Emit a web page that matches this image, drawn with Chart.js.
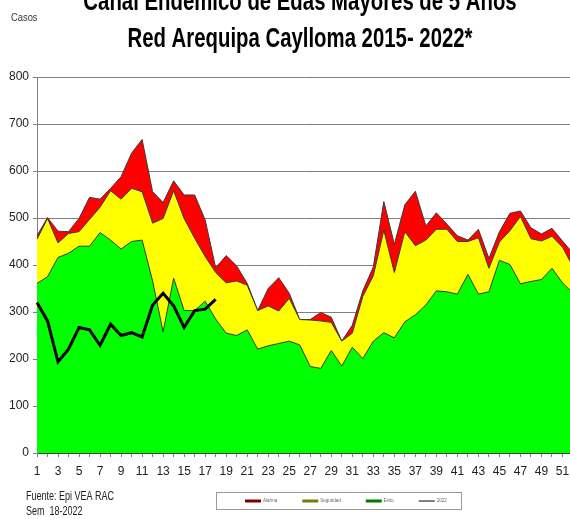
<!DOCTYPE html>
<html>
<head>
<meta charset="utf-8">
<script src="https://cdn.jsdelivr.net/npm/chart.js@4.4.1/dist/chart.umd.min.js"></script>
<style>
  html, body { margin: 0; padding: 0; background: #fff; overflow: hidden; }
  #wrap { width: 570px; height: 519px; overflow: hidden; }
</style>
</head>
<body>
<div id="wrap"><canvas id="canal" width="585" height="519"></canvas></div>
<script>
const semanas = ["1","2","3","4","5","6","7","8","9","10","11","12","13","14","15","16","17","18","19","20","21","22","23","24","25","26","27","28","29","30","31","32","33","34","35","36","37","38","39","40","41","42","43","44","45","46","47","48","49","50","51","52"];
const etiquetasX = ["1","3","5","7","9","11","13","15","17","19","21","23","25","27","29","31","33","35","37","39","41","43","45","47","49","51"];

const exito = [361,375,416,425,440,440,469,453,434,450,453,366,258,372,303,303,323,285,255,250,262,221,228,233,238,230,184,180,218,185,225,201,238,256,245,279,294,315,345,343,338,380,338,343,410,401,360,365,369,393,362,340];
const seguridad = [455,499,447,467,471,497,523,558,540,563,556,489,499,558,499,457,418,384,362,366,357,303,313,302,329,284,283,281,278,238,255,333,377,474,384,471,441,453,476,476,450,450,458,393,449,473,503,456,451,461,438,396];
const alarma = [462,501,472,471,499,544,540,563,588,638,667,556,533,579,549,549,496,394,420,398,361,303,350,373,340,284,284,299,289,238,272,345,396,535,444,528,557,483,511,487,462,453,476,414,471,510,515,479,466,478,451,425];
const casos2022 = [320,281,194,221,267,262,229,274,250,256,247,315,340,313,267,303,306,327];

const titulo = ["Canal Endémico de Edas Mayores de 5 Años", "Red Arequipa Caylloma 2015- 2022*"];
const fuente = ["Fuente: Epi VEA RAC", "Sem  18-2022"];

const FONT = "'Liberation Sans', Arial, sans-serif";
const FONT_EJES = "'Liberation Sans Narrow', 'Arial Narrow', 'Liberation Sans', Arial, sans-serif";

// texto comprimido en horizontal (la imagen original esta angostada)
function texto(ctx, str, x, y, sx, align) {
  ctx.save();
  ctx.translate(x, y);
  ctx.scale(sx, 1);
  ctx.textAlign = align;
  ctx.fillText(str, 0, 0);
  ctx.restore();
}

const textosCanal = {
  id: "textosCanal",
  beforeDraw: (chart) => {
    const { ctx } = chart;
    ctx.save();
    ctx.fillStyle = "#fff";
    ctx.fillRect(0, 0, chart.width, chart.height);
    ctx.restore();
  },
  afterDraw: (chart) => {
    const { ctx } = chart;
    ctx.save();
    ctx.textBaseline = "alphabetic";

    ctx.fillStyle = "#000";
    ctx.font = "bold 28px " + FONT;
    texto(ctx, titulo[0], 300, 10, 0.727, "center");
    texto(ctx, titulo[1], 300, 46.5, 0.727, "center");

    ctx.fillStyle = "#333";
    ctx.font = "11px " + FONT;
    texto(ctx, "Casos", 11, 21, 0.85, "left");

    ctx.fillStyle = "#222";
    ctx.font = "12px " + FONT;
    texto(ctx, fuente[0], 26, 499.5, 0.75, "left");
    texto(ctx, fuente[1], 26, 515, 0.75, "left");

    // leyenda
    ctx.strokeStyle = "#999";
    ctx.lineWidth = 1;
    ctx.strokeRect(216.5, 492.5, 245, 17);
    ctx.font = "4.5px " + FONT;
    ctx.textBaseline = "middle";
    let x = 245;
    const y = 501;
    const items = chart.data.datasets.slice().reverse();
    items.forEach((ds) => {
      ctx.strokeStyle = ds.colorLeyenda;
      ctx.lineWidth = ds.grosorLeyenda;
      ctx.beginPath();
      ctx.moveTo(x, y);
      ctx.lineTo(x + 16, y);
      ctx.stroke();
      ctx.fillStyle = "#666";
      ctx.textAlign = "left";
      ctx.fillText(ds.label, x + 18, y);
      x += 18 + ctx.measureText(ds.label).width + 25;
    });
    ctx.restore();
  },
};

const ctx = document.getElementById("canal");

new Chart(ctx, {
  type: "line",
  data: {
    labels: semanas,
    datasets: [
      {
        label: "2022",
        data: casos2022,
        borderColor: "#000",
        borderWidth: 3,
        fill: false,
        colorLeyenda: "#555",
        grosorLeyenda: 1.5,
      },
      {
        label: "Exito",
        data: exito,
        borderColor: "#3a3a3a",
        borderWidth: 1,
        backgroundColor: "#00ff00",
        fill: "origin",
        colorLeyenda: "#007a00",
        grosorLeyenda: 3,
      },
      {
        label: "Seguridad",
        data: seguridad,
        borderColor: "#3a3a3a",
        borderWidth: 1,
        backgroundColor: "#ffff00",
        fill: "origin",
        colorLeyenda: "#7a7a00",
        grosorLeyenda: 3,
      },
      {
        label: "Alarma",
        data: alarma,
        borderColor: "#3a3a3a",
        borderWidth: 1,
        backgroundColor: "#ff0000",
        fill: "origin",
        colorLeyenda: "#7a0000",
        grosorLeyenda: 3,
      },
    ],
  },
  options: {
    responsive: false,
    animation: false,
    devicePixelRatio: 1,
    layout: {
      padding: { left: 0, right: 12, top: 77, bottom: 36 },
    },
    elements: {
      point: { radius: 0, hoverRadius: 0 },
      line: { tension: 0 },
    },
    plugins: {
      legend: { display: false },
      tooltip: { enabled: false },
      title: { display: false },
    },
    scales: {
      x: {
        offset: false,
        afterFit: (scale) => { scale.height = 30; },
        grid: {
          drawOnChartArea: false,
          drawTicks: true,
          tickLength: 4,
          color: "#808080",
        },
        border: { color: "#404040", width: 1 },
        ticks: {
          autoSkip: false,
          maxRotation: 0,
          padding: 7,
          color: "#222",
          font: { family: FONT_EJES, size: 12 },
          callback: function (val) {
            const l = this.getLabelForValue(val);
            return etiquetasX.includes(l) ? l : "";
          },
        },
      },
      y: {
        min: 0,
        max: 800,
        afterFit: (scale) => { scale.width = 37; },
        grid: {
          color: "#808080",
          tickLength: 4,
        },
        border: { color: "#808080" },
        ticks: {
          stepSize: 100,
          padding: 4,
          color: "#222",
          font: { family: FONT_EJES, size: 12 },
        },
      },
    },
  },
  plugins: [textosCanal],
});
</script>
</body>
</html>
